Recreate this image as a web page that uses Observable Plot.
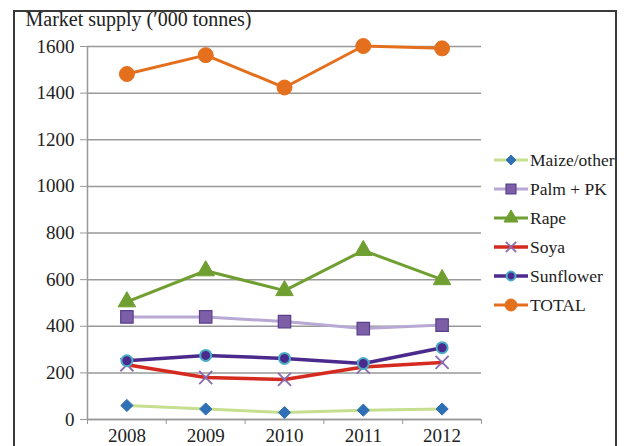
<!DOCTYPE html>
<html><head><meta charset="utf-8">
<script src="https://cdn.jsdelivr.net/npm/d3@7"></script>
<script src="https://cdn.jsdelivr.net/npm/@observablehq/plot@0.6"></script>
<style>
html,body{margin:0;padding:0;background:#fff;}
#wrap{position:relative;width:624px;height:446px;overflow:hidden;}
#frame{position:absolute;left:13px;top:10px;width:604px;height:460px;border:2px solid #3a3a3a;box-sizing:border-box;pointer-events:none;}
#wrap svg, #wrap svg text { font-family: "Liberation Serif", "Times New Roman", serif !important; }
#wrap svg g[aria-label$="tick label"] { font-size: 19px !important; }
#wrap svg g[aria-label$="tick label"] text { font-size: 19px !important; }
</style></head>
<body><div id="wrap"><div id="frame"></div></div>
<script>
const years = [2008, 2009, 2010, 2011, 2012];
const maize = [60, 45, 30, 40, 45];
const palm = [440, 440, 420, 390, 405];
const rape = [505, 638, 553, 725, 600];
const soya = [235, 180, 172, 225, 245];
const sunflower = [252, 275, 262, 240, 308];
const total = [1482, 1563, 1424, 1602, 1592];
const yTicks = [0, 200, 400, 600, 800, 1000, 1200, 1400, 1600];
const xBounds = [2007.5, 2008.5, 2009.5, 2010.5, 2011.5, 2012.5];
const title = "Market supply (\u2032000 tonnes)";
const SERIF = "Liberation Serif";

const series = [
  {name: "Maize/other", values: maize, line: "#c5df8e", lw: 3, symbol: "diamond2", r: 5.5, fill: "#2f6fb5", stroke: "#2f6fb5", sw: 1},
  {name: "Palm + PK", values: palm, line: "#b7a8d4", lw: 3, symbol: "square", r: 7, fill: "#7d5fa8", stroke: "#5a3f8a", sw: 1.2},
  {name: "Rape", values: rape, line: "#6f9f30", lw: 3, symbol: "triangle", r: 6.5, fill: "#6f9f30", stroke: "#6f9f30", sw: 1},
  {name: "Soya", values: soya, line: "#d42a1f", lw: 3.5, symbol: "times", r: 6, fill: "none", stroke: "#8a6bb0", sw: 1.8},
  {name: "Sunflower", values: sunflower, line: "#4a2a8c", lw: 3.5, symbol: "circle", r: 5.5, fill: "#4a2a8c", stroke: "#4bacc6", sw: 2},
  {name: "TOTAL", values: total, line: "#e4701e", lw: 3, symbol: "circle", r: 7.5, fill: "#e4701e", stroke: "#e4701e", sw: 1}
];

const marks = [
  Plot.gridY(yTicks, {stroke: "#999", strokeOpacity: 1, strokeWidth: 1.5}),
  Plot.axisY(yTicks, {tickSize: 7, tickPadding: 6, stroke: "#999", fontSize: 19, fontFamily: SERIF, fill: "#222", tickFormat: d => String(d), label: null}),
  Plot.ruleX([2007.5], {stroke: "#999", strokeWidth: 1.5}),
  Plot.ruleY([0], {stroke: "#999", strokeWidth: 1.5}),
  Plot.axisX(xBounds, {tickSize: 5, stroke: "#999", tickFormat: () => "", label: null}),
  Plot.axisX(years, {tickSize: 0, tickPadding: 9, fontSize: 19, fontFamily: SERIF, fill: "#222", tickFormat: d => String(d), label: null}),
  Plot.text([title], {frameAnchor: "top-left", dx: -62, dy: -35, text: d => d, fontSize: 20, fontFamily: SERIF, fill: "#222", textAnchor: "start"})
];
for (const s of series) {
  const data = years.map((y, i) => ({year: y, value: s.values[i]}));
  marks.push(Plot.line(data, {x: "year", y: "value", stroke: s.line, strokeWidth: s.lw}));
}
for (const s of series) {
  const data = years.map((y, i) => ({year: y, value: s.values[i]}));
  marks.push(Plot.dot(data, {x: "year", y: "value", symbol: () => s.symbol, r: s.r, fill: s.fill, stroke: s.stroke, strokeWidth: s.sw}));
}

const chart = Plot.plot({
  width: 624, height: 446,
  marginLeft: 87, marginRight: 143, marginTop: 46, marginBottom: 27,
  x: {domain: [2007.5, 2012.5]},
  y: {domain: [0, 1600]},
  style: {background: "transparent", overflow: "visible"},
  marks
});
const wrap = document.getElementById("wrap");
wrap.insertBefore(chart, wrap.firstChild);
chart.style.position = "absolute"; chart.style.left = "0"; chart.style.top = "0";

// legend
const svg = d3.select(chart);
const lg = svg.append("g").attr("font-size", 17.5).attr("fill", "#222").attr("text-anchor", "start");
const symMap = {diamond2: d3.symbolDiamond2, square: d3.symbolSquare, triangle: d3.symbolTriangle, times: d3.symbolTimes, circle: d3.symbolCircle};
series.forEach((s, i) => {
  const y = 160 + i * 29;
  const g = lg.append("g").attr("transform", `translate(0,${y})`);
  g.append("line").attr("x1", 494).attr("x2", 528).attr("y1", 0).attr("y2", 0).attr("stroke", s.line).attr("stroke-width", s.lw);
  const size = (s.r * 0.8) ** 2 * Math.PI;
  g.append("path").attr("transform", "translate(511,0)").attr("d", d3.symbol(symMap[s.symbol], size)())
    .attr("fill", s.fill).attr("stroke", s.stroke).attr("stroke-width", s.sw);
  g.append("text").attr("x", 530).attr("y", 0).attr("dy", "0.35em").text(s.name);
});
</script></body></html>
